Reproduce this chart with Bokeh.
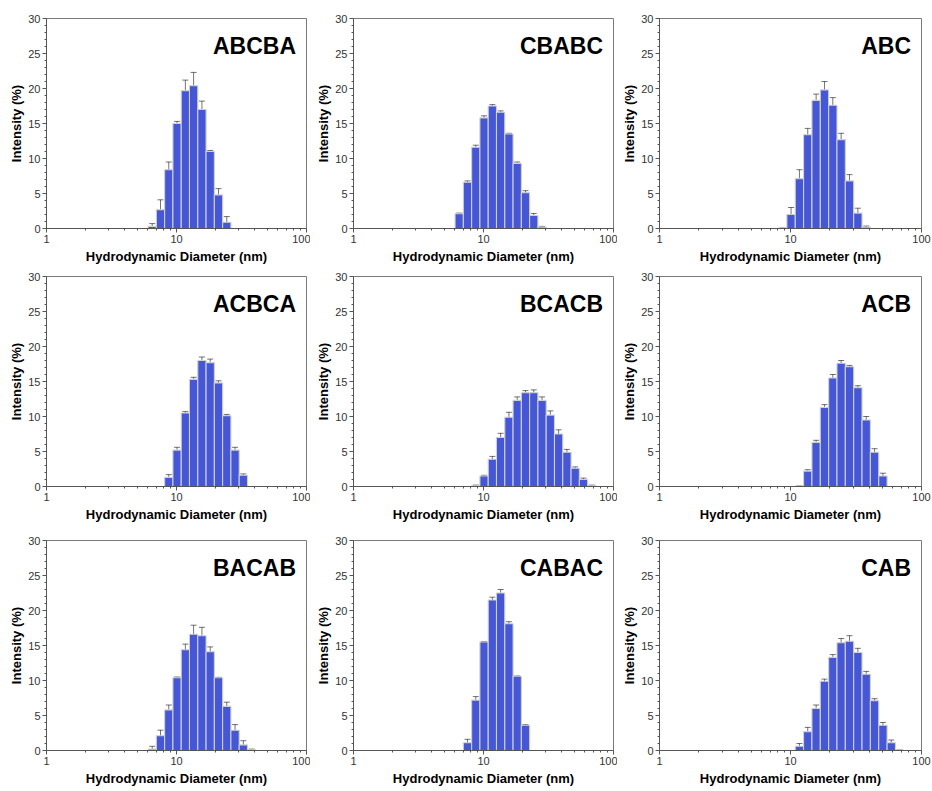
import numpy as np
from bokeh.plotting import figure
from bokeh.layouts import column, row
from bokeh.models import (ColumnDataSource, FixedTicker, Label, Whisker, TeeHead, Range1d)
from bokeh.embed import file_html
from bokeh.resources import INLINE

# ---------------- data ----------------
titles = ["ABCBA", "CBABC", "ABC", "ACBCA", "BCACB", "ACB", "BACAB", "CABAC", "CAB"]

abcba_size = [6.503, 7.531, 8.721, 10.10, 11.70, 13.54, 15.69, 18.17, 21.04, 24.36]
abcba_int = [0.3, 2.7, 8.4, 15.0, 19.7, 20.4, 17.0, 11.0, 4.8, 0.9]
abcba_err = [0.4, 1.4, 1.1, 0.3, 1.5, 1.9, 1.2, 0.15, 0.9, 0.8]

cbabc_size = [6.503, 7.531, 8.721, 10.10, 11.70, 13.54, 15.69, 18.17, 21.04, 24.36, 28.21]
cbabc_int = [2.1, 6.6, 11.6, 15.8, 17.5, 16.6, 13.5, 9.3, 5.1, 1.85, 0.2]
cbabc_err = [0.1, 0.2, 0.3, 0.3, 0.2, 0.2, 0.1, 0.2, 0.3, 0.3, 0.1]

abc_size = [8.721, 10.10, 11.70, 13.54, 15.69, 18.17, 21.04, 24.36, 28.21, 32.67, 37.84]
abc_int = [0.05, 2.0, 7.1, 13.4, 18.3, 19.8, 17.6, 12.7, 6.8, 2.2, 0.2]
abc_err = [0.0, 1.0, 1.3, 0.9, 0.9, 1.2, 1.1, 0.9, 0.9, 0.7, 0.15]

acbca_size = [8.721, 10.10, 11.70, 13.54, 15.69, 18.17, 21.04, 24.36, 28.21, 32.67]
acbca_int = [1.3, 5.2, 10.5, 15.3, 18.0, 17.7, 14.8, 10.1, 5.2, 1.6]
acbca_err = [0.4, 0.4, 0.2, 0.3, 0.5, 0.5, 0.3, 0.2, 0.4, 0.2]

bcacb_size = [8.721, 10.10, 11.70, 13.54, 15.69, 18.17, 21.04, 24.36, 28.21, 32.67,
              37.84, 43.82, 50.75, 58.77, 68.06]
bcacb_int = [0.1, 1.5, 3.9, 7.0, 9.9, 12.3, 13.4, 13.4, 12.3, 10.2, 7.5, 4.9, 2.6, 1.0, 0.1]
bcacb_err = [0.1, 0.1, 0.4, 0.6, 0.7, 0.5, 0.3, 0.4, 0.5, 0.6, 0.6, 0.4, 0.2, 0.2, 0.1]

acb_size = [11.70, 13.54, 15.69, 18.17, 21.04, 24.36, 28.21, 32.67, 37.84, 43.82, 50.75]
acb_int = [0.05, 2.2, 6.3, 11.3, 15.5, 17.6, 17.1, 14.1, 9.5, 4.9, 1.5]
acb_err = [0.0, 0.2, 0.3, 0.4, 0.5, 0.4, 0.2, 0.3, 0.5, 0.5, 0.4]

bacab_size = [6.503, 7.531, 8.721, 10.10, 11.70, 13.54, 15.69, 18.17, 21.04, 24.36,
              28.21, 32.67, 37.84]
bacab_int = [0.2, 2.1, 5.8, 10.4, 14.4, 16.6, 16.4, 14.1, 10.4, 6.3, 2.9, 0.8, 0.1]
bacab_err = [0.4, 0.8, 0.7, 0.1, 0.8, 1.3, 1.2, 0.7, 0.05, 0.6, 0.8, 0.6, 0.1]

cabac_size = [7.531, 8.721, 10.10, 11.70, 13.54, 15.69, 18.17, 21.04]
cabac_int = [1.1, 7.2, 15.5, 21.5, 22.5, 18.1, 10.6, 3.6]
cabac_err = [0.5, 0.5, 0.05, 0.4, 0.5, 0.3, 0.05, 0.1]

cab_size = [11.70, 13.54, 15.69, 18.17, 21.04, 24.36, 28.21, 32.67, 37.84, 43.82,
            50.75, 58.77, 68.06]
cab_int = [0.6, 2.7, 6.0, 9.9, 13.3, 15.4, 15.6, 14.0, 10.9, 7.1, 3.6, 1.1, 0.05]
cab_err = [0.4, 0.6, 0.5, 0.3, 0.4, 0.6, 0.8, 0.6, 0.4, 0.3, 0.4, 0.4, 0.0]

x_major = [1, 10, 100]
y_major = [0, 5, 10, 15, 20, 25, 30]

series = [
    (abcba_size, abcba_int, abcba_err),
    (cbabc_size, cbabc_int, cbabc_err),
    (abc_size, abc_int, abc_err),
    (acbca_size, acbca_int, acbca_err),
    (bcacb_size, bcacb_int, bcacb_err),
    (acb_size, acb_int, acb_err),
    (bacab_size, bacab_int, bacab_err),
    (cabac_size, cabac_int, cabac_err),
    (cab_size, cab_int, cab_err),
]

# ---------------- styling / layout ----------------
FONT = "Liberation Sans"
BAR = "#4556d6"
BIN_RATIO = 1.1582  # log spacing of the size classes

col_params = [(46, 260, 4), (43, 260, 4), (42, 262, 11)]   # border left, frame width, border right
row_params = [(18, 210, 40), (8, 210, 46), (8, 210, 41)]   # border top, frame height, border bottom

x_minor = [m * d for d in (1, 10) for m in range(2, 10)]
y_minor = list(range(0, 31))


def make_panel(idx):
    r, c = divmod(idx, 3)
    bl, fw, br = col_params[c]
    bt, fh, bb = row_params[r]
    size, inten, err = series[idx]
    size = np.array(size)
    inten = np.array(inten)
    err = np.array(err)
    half = np.sqrt(BIN_RATIO)
    src = ColumnDataSource(dict(
        left=size / half, right=size * half, top=inten, bottom=np.zeros_like(inten),
        x=size, upper=inten + err, lower=inten - err))

    p = figure(x_axis_type="log", x_range=Range1d(1, 100), y_range=Range1d(0, 30),
               frame_width=fw, frame_height=fh,
               min_border_left=bl, min_border_right=br,
               min_border_top=bt, min_border_bottom=bb,
               output_backend="svg", toolbar_location=None, tools="")
    p.grid.visible = False
    p.background_fill_color = "white"
    p.border_fill_color = "white"
    p.outline_line_color = "#7a7a7a"
    p.outline_line_width = 1

    p.quad(left="left", right="right", top="top", bottom="bottom", source=src,
           fill_color=BAR, line_color="#d0d0d0", line_width=1.1)

    w = Whisker(base="x", upper="upper", lower="lower", source=src, dimension="height",
                line_color="black", line_alpha=0.55, line_width=1,
                upper_head=TeeHead(size=6, line_color="black", line_alpha=0.55, line_width=1),
                lower_head=TeeHead(size=6, line_color="black", line_alpha=0.55, line_width=1))
    p.add_layout(w)

    p.xaxis.ticker = FixedTicker(ticks=x_major, minor_ticks=x_minor)
    p.yaxis.ticker = FixedTicker(ticks=y_major, minor_ticks=y_minor)
    p.xaxis.axis_label = "Hydrodynamic Diameter (nm)"
    p.yaxis.axis_label = "Intensity (%)"
    for ax in (p.xaxis[0], p.yaxis[0]):
        ax.axis_label_text_font = FONT
        ax.axis_label_text_font_size = "13px"
        ax.axis_label_text_font_style = "bold"
        ax.axis_label_text_color = "black"
        ax.major_label_text_font = FONT
        ax.major_label_text_font_size = "11px"
        ax.major_label_text_color = "#333333"
        ax.axis_line_color = "#555555"
        ax.major_tick_line_color = "#555555"
        ax.minor_tick_line_color = "#555555"
        ax.major_tick_out = 4
        ax.major_tick_in = 0
        ax.minor_tick_out = 2
        ax.minor_tick_in = 0
        ax.major_label_standoff = 2
    p.xaxis.axis_label_standoff = 3
    p.yaxis.axis_label_standoff = 1
    p.xaxis.major_label_overrides = {1: "1", 10: "10", 100: "100"}

    ty = 30 - 27.4 * 30 / fh
    tx = 10 ** (2 - 10.5 * 2 / fw)
    p.add_layout(Label(x=tx, y=ty, text=titles[idx], text_align="right",
                       text_baseline="alphabetic", text_font=FONT,
                       text_font_size="23px", text_font_style="bold", text_color="black"))
    return p


panels = [make_panel(i) for i in range(9)]
layout = column(row(*panels[0:3]), row(*panels[3:6]), row(*panels[6:9]))

open("out.html", "w").write(file_html(layout, INLINE))
